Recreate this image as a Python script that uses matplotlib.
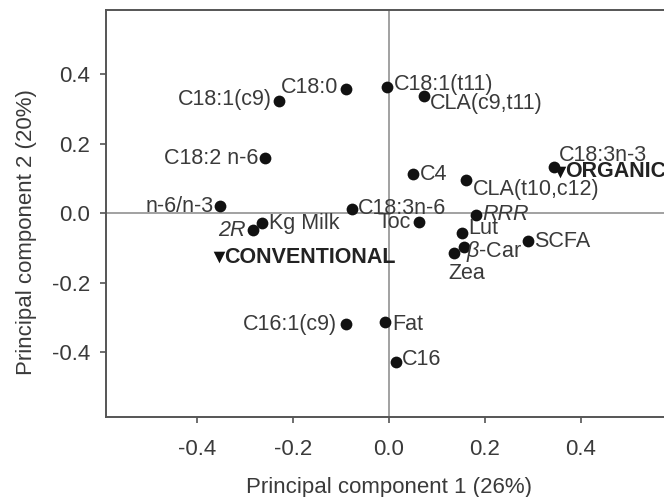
import matplotlib
matplotlib.use("Agg")
import matplotlib.pyplot as plt

plt.rcParams["font.family"] = ["Liberation Sans", "DejaVu Sans"]
plt.rcParams["mathtext.fontset"] = "custom"
plt.rcParams["mathtext.it"] = "Liberation Sans:italic"
plt.rcParams["mathtext.rm"] = "Liberation Sans"

# loadings (PC1, PC2)
labels = ["C18:1(c9)", "C18:0", "C18:1(t11)", "CLA(c9,t11)", "C18:2 n-6",
          "C4", "CLA(t10,c12)", "C18:3n-3", "n-6/n-3", "C18:3n-6",
          "RRR", "Toc", "Kg Milk", "2R", "Lut", "SCFA", "β-Car", "Zea",
          "C16:1(c9)", "Fat", "C16"]
pc1 = [-0.229, -0.090, -0.004, 0.074, -0.257,
       0.050, 0.160, 0.344, -0.351, -0.077,
       0.181, 0.063, -0.265, -0.283, 0.152, 0.290, 0.156, 0.135,
       -0.090, -0.008, 0.015]
pc2 = [0.324, 0.358, 0.363, 0.339, 0.158,
       0.113, 0.096, 0.133, 0.021, 0.012,
       -0.005, -0.025, -0.028, -0.048, -0.057, -0.080, -0.097, -0.114,
       -0.319, -0.313, -0.428]

# system scores
groups = ["CONVENTIONAL", "ORGANIC"]
group_pc1 = [-0.354, 0.356]
group_pc2 = [-0.126, 0.119]

# label placement: (dx, dy) in points, horizontal alignment
placement = {
    "C18:1(c9)": (-5, 1, "right"),
    "C18:0": (-5, 1, "right"),
    "C18:1(t11)": (5, 2, "left"),
    "CLA(c9,t11)": (4, -6, "left"),
    "C18:2 n-6": (-5, 0, "right"),
    "C4": (5, 0, "left"),
    "CLA(t10,c12)": (5, -6.5, "left"),
    "C18:3n-3": (3.5, 8.5, "left"),
    "n-6/n-3": (-5, 0, "right"),
    "C18:3n-6": (4.5, 0.5, "left"),
    "RRR": (5, 0.5, "left"),
    "Toc": (-6, -0.5, "right"),
    "Kg Milk": (5, -0.5, "left"),
    "2R": (-5, -0.5, "right"),
    "Lut": (4.5, 3, "left"),
    "SCFA": (4.5, -0.5, "left"),
    "β-Car": (2, -3.5, "left"),
    "Zea": (-3.5, -14.5, "left"),
    "C16:1(c9)": (-6, 0, "right"),
    "Fat": (5, -2, "left"),
    "C16": (4.5, 1.5, "left"),
}
italic = {"RRR", "2R"}

text_color = "#3a3a3a"

fig = plt.figure(figsize=(6.64, 4.97), dpi=100)
ax = fig.add_axes([0.159, 0.161, 0.853, 0.8195])

ax.axhline(0, color="#9a9a9a", lw=1.3, zorder=1)
ax.axvline(0, color="#9a9a9a", lw=1.3, zorder=1)

ax.scatter(pc1, pc2, s=72, color="#111111", zorder=3, linewidths=0)
ax.scatter(group_pc1, group_pc2, marker="v", s=70, color="#111111",
           zorder=3, linewidths=0)

for name, x, y in zip(labels, pc1, pc2):
    dx, dy, ha = placement[name]
    text = name
    style = "normal"
    if name in italic:
        style = "italic"
    if name == "β-Car":
        text = r"$\it{\beta}$-Car"
    ax.annotate(text, (x, y), xytext=(dx, dy), textcoords="offset points",
                ha=ha, va="center", fontsize=15.5, color=text_color,
                style=style, zorder=4, annotation_clip=False)

for name, x, y in zip(groups, group_pc1, group_pc2):
    ax.annotate(name, (x, y), xytext=(4, 0), textcoords="offset points",
                ha="left", va="center", fontsize=15.5, fontweight="bold",
                color="#222222", zorder=4, annotation_clip=False)

ax.set_xlim(-0.59, 0.59)
ax.set_ylim(-0.586, 0.586)
ax.set_xticks([-0.4, -0.2, 0.0, 0.2, 0.4])
ax.set_yticks([-0.4, -0.2, 0.0, 0.2, 0.4])
ax.set_xticklabels(["-0.4", "-0.2", "0.0", "0.2", "0.4"])
ax.set_yticklabels(["-0.4", "-0.2", "0.0", "0.2", "0.4"])

for sp in ax.spines.values():
    sp.set_color("#555555")
    sp.set_linewidth(1.4)

ax.tick_params(axis="both", direction="out", length=4, width=1.2,
               color="#555555", labelsize=16, labelcolor=text_color)
ax.tick_params(axis="x", pad=12)
ax.tick_params(axis="y", pad=7)

ax.set_xlabel("Principal component 1 (26%)", fontsize=16, color=text_color)
ax.set_ylabel("Principal component 2 (20%)", fontsize=16, color=text_color)
ax.xaxis.label.set_va("center")
ax.yaxis.label.set_va("center")
ax.xaxis.set_label_coords(0.5, -0.172)
ax.yaxis.set_label_coords(-0.139, 0.454)

fig.savefig("out.png", dpi=100)
plt.close(fig)
